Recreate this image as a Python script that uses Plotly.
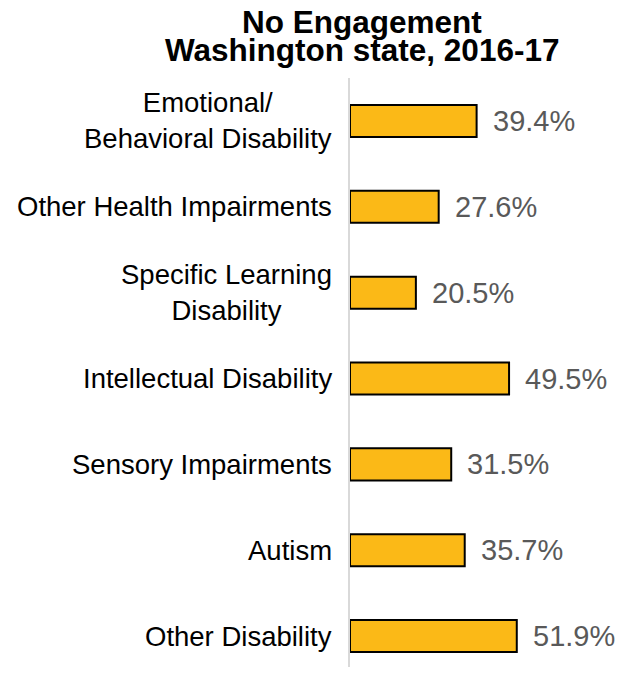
import plotly.graph_objects as go

categories = [
    'Emotional/<br>Behavioral Disability',
    'Other Health Impairments',
    'Specific Learning<br>Disability',
    'Intellectual Disability',
    'Sensory Impairments',
    'Autism',
    'Other Disability',
]
values = [39.4, 27.6, 20.5, 49.5, 31.5, 35.7, 51.9]
value_labels = ['39.4%', '27.6%', '20.5%', '49.5%', '31.5%', '35.7%', '51.9%']
title_lines = ['No Engagement', 'Washington state, 2016-17']

BAR_COLOR = '#FBB917'
FONT_FAMILY = 'Liberation Sans, Arial, sans-serif'
LABEL_FONT = dict(family=FONT_FAMILY, size=27.5, color='#000000')
VALUE_FONT = dict(family=FONT_FAMILY, size=29, color='#595959')
TITLE_FONT = dict(family=FONT_FAMILY, size=31.5, color='#000000')

fig = go.Figure(go.Bar(
    y=categories,
    x=values,
    orientation='h',
    width=0.373,
    marker=dict(color=BAR_COLOR, line=dict(color='#000000', width=2)),
    hoverinfo='x+y',
))

annotations = []

# title, one annotation per line (tight line spacing)
for i, line in enumerate(title_lines):
    annotations.append(dict(
        x=0.043, y=1, xref='paper', yref='paper',
        text='<b>' + line + '</b>', showarrow=False,
        xanchor='center', yanchor='middle',
        yshift=[56, 28][i], font=TITLE_FONT,
    ))

# category labels, right edge near the axis
for cat in categories:
    annotations.append(dict(
        x=0, y=cat, xref='x', yref='y',
        text=cat, showarrow=False,
        xanchor='right', yanchor='middle', align='center',
        xshift=-16, font=LABEL_FONT,
    ))

# value labels outside the bars
for cat, val, lab in zip(categories, values, value_labels):
    annotations.append(dict(
        x=val, y=cat, xref='x', yref='y',
        text=lab, showarrow=False,
        xanchor='left', yanchor='middle',
        xshift=14, font=VALUE_FONT,
    ))

# page body adds 8px margin, so the figure is 16px smaller than the window
fig.update_layout(
    width=610,
    height=659,
    margin=dict(l=342, r=0, t=70, b=0),
    paper_bgcolor='white',
    plot_bgcolor='white',
    showlegend=False,
    annotations=annotations,
)

fig.update_xaxes(
    range=[0, 83.4],
    showgrid=False, zeroline=False,
    showticklabels=False, ticks='',
    showline=False,
)
fig.update_yaxes(
    type='category',
    range=[6.36, -0.5],
    showgrid=False, zeroline=False,
    showticklabels=False, ticks='',
    showline=True, linecolor='#D9D9D9', linewidth=2,
)

fig.write_html("out.html")
